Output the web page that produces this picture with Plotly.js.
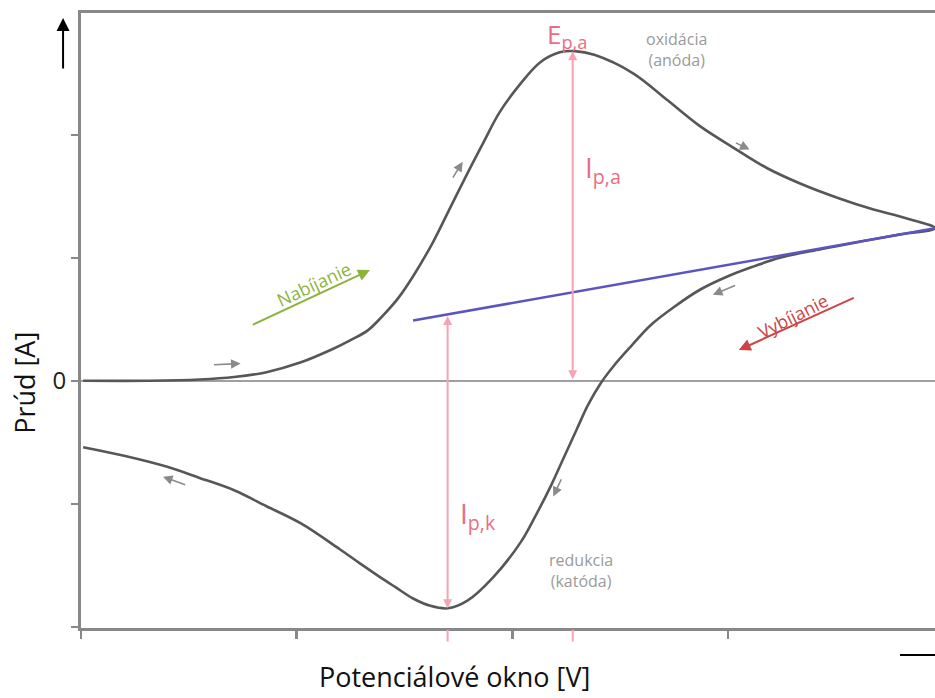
<!DOCTYPE html>
<html>
<head>
<meta charset="utf-8">
<script src="https://cdn.plot.ly/plotly-3.0.1.min.js"></script>
<style>html,body{margin:0;padding:0;background:#fff;}#chart{width:935px;height:698px;}</style>
</head>
<body>
<div id="chart"></div>
<script>
// Forward (anodic) scan
const forwardE = [0.01,0.32,0.55,0.71,0.86,1.02,1.17,1.25,1.33,1.40,1.47,1.54,1.63,1.71,1.79,1.87,1.94,2.04,2.13,2.22,2.29,2.38,2.56,2.72,2.87,3.03,3.18,3.34,3.52,3.66,3.83,3.96];
const forwardI = [0,0,0.01,0.03,0.07,0.15,0.26,0.33,0.41,0.53,0.67,0.85,1.12,1.40,1.68,1.95,2.18,2.42,2.59,2.67,2.68,2.65,2.50,2.28,2.07,1.89,1.73,1.60,1.48,1.40,1.32,1.24];
// Reverse (cathodic) scan
const reverseE = [3.96,3.80,3.61,3.43,3.24,3.12,3.00,2.87,2.75,2.64,2.55,2.47,2.41,2.35,2.30,2.24,2.18,2.11,2.04,1.91,1.79,1.70,1.62,1.54,1.46,1.39,1.29,1.20,1.02,0.86,0.71,0.55,0.40,0.20,0.01];
const reverseI = [1.24,1.19,1.13,1.07,1.00,0.93,0.85,0.74,0.60,0.45,0.28,0.12,-0.02,-0.20,-0.39,-0.62,-0.85,-1.09,-1.31,-1.60,-1.79,-1.85,-1.83,-1.77,-1.68,-1.60,-1.48,-1.37,-1.16,-1.02,-0.89,-0.79,-0.70,-0.61,-0.54];
// Baseline (capacitive) line
const baselineE = [1.54, 3.96];
const baselineI = [0.49, 1.24];
// Peaks
const peakAnodic = {E: 2.28, I: 2.68};
const peakCathodic = {E: 1.70, I: -1.85};
// Axis ticks
const xTickVals = [0, 1, 2, 3];
const yTickVals = [-2, -1, 0, 1, 2];
const yTickText = ['', '', '0', '', ''];

function baselineAt(e){
  return baselineI[0] + (e - baselineE[0]) * (baselineI[1]-baselineI[0])/(baselineE[1]-baselineE[0]);
}

const loopE = forwardE.concat(reverseE.slice(1));
const loopI = forwardI.concat(reverseI.slice(1));

const traces = [
  {x: loopE, y: loopI, mode:'lines', line:{color:'#575757', width:2.6, shape:'spline', smoothing:1.0, simplify:false}, hoverinfo:'skip'},
  {x: baselineE, y: baselineI, mode:'lines', line:{color:'#5a55c0', width:2.5}, hoverinfo:'skip'}
];

const pinkLine = '#f6a3b4';
const pinkText = '#ec6c84';
const grayArrow = '#8a8a8a';
const F = 'Open Sans, sans-serif';

function smallArrow(x0,y0,x1,y1){
  return {x:x1, y:y1, ax:x0, ay:y0, xref:'x', yref:'y', axref:'x', ayref:'y', text:'', showarrow:true,
    arrowhead:2, arrowsize:1.2, arrowwidth:1.6, arrowcolor:grayArrow};
}

const annotations = [
  // Ip,a double arrow
  {x: peakAnodic.E, y: peakAnodic.I, ax: peakAnodic.E, ay: 0, xref:'x', yref:'y', axref:'x', ayref:'y', text:'', showarrow:true,
   arrowhead:2, startarrowhead:2, arrowside:'end+start', arrowsize:0.9, startarrowsize:0.9, arrowwidth:2, arrowcolor:pinkLine},
  // Ip,k double arrow
  {x: peakCathodic.E, y: peakCathodic.I, ax: peakCathodic.E, ay: baselineAt(peakCathodic.E), xref:'x', yref:'y', axref:'x', ayref:'y', text:'', showarrow:true,
   arrowhead:2, startarrowhead:2, arrowside:'end+start', arrowsize:0.9, startarrowsize:0.9, arrowwidth:2, arrowcolor:pinkLine},
  // Labels
  {x:2.255, y:2.81, xref:'x', yref:'y', text:'E<sub>p,a</sub>', showarrow:false, font:{family:F, size:26, color:pinkText}},
  {x:2.33, y:1.72, xref:'x', yref:'y', xanchor:'left', text:'I<sub>p,a</sub>', showarrow:false, font:{family:F, size:28, color:pinkText}},
  {x:1.75, y:-1.09, xref:'x', yref:'y', xanchor:'left', text:'I<sub>p,k</sub>', showarrow:false, font:{family:F, size:28, color:pinkText}},
  {x:peakCathodic.E, y:-2.23, xref:'x', yref:'y', text:'E<sub>p,k</sub>', showarrow:false, font:{family:F, size:26, color:pinkText}},
  {x:2.76, y:2.69, xref:'x', yref:'y', text:'oxidácia<br>(anóda)', showarrow:false, font:{family:F, size:16, color:'#9a9a9a'}},
  {x:2.32, y:-1.54, xref:'x', yref:'y', text:'redukcia<br>(katóda)', showarrow:false, font:{family:F, size:16, color:'#9a9a9a'}},
  // Charging / discharging arrows
  {x:1.34, y:0.90, ax:0.79, ay:0.45, xref:'x', yref:'y', axref:'x', ayref:'y', text:'', showarrow:true, arrowhead:2, arrowsize:1.2, arrowwidth:2, arrowcolor:'#8cb43c'},
  {x:1.08, y:0.79, xref:'x', yref:'y', text:'Nabíjanie', textangle:-25, showarrow:false, font:{family:F, size:18, color:'#8cb43c'}},
  {x:3.05, y:0.25, ax:3.59, ay:0.68, xref:'x', yref:'y', axref:'x', ayref:'y', text:'', showarrow:true, arrowhead:2, arrowsize:1.2, arrowwidth:2, arrowcolor:'#cc4444'},
  {x:3.30, y:0.53, xref:'x', yref:'y', text:'Vybíjanie', textangle:-27, showarrow:false, font:{family:F, size:18, color:'#cc4444'}},
  // small direction arrows
  smallArrow(0.61,0.13,0.74,0.14),
  smallArrow(1.72,1.64,1.77,1.78),
  smallArrow(3.03,1.94,3.10,1.88),
  smallArrow(3.04,0.78,2.93,0.70),
  smallArrow(2.23,-0.79,2.19,-0.94),
  smallArrow(0.49,-0.85,0.38,-0.78),
  // top-left arrow
  {x:-0.021, y:0.992, xref:'paper', yref:'paper', ax:0, ay:52, text:'', showarrow:true, arrowhead:2, arrowsize:1.3, arrowwidth:2, arrowcolor:'#000'},
  // axis titles
  {x:-0.066, y:0.398, xref:'paper', yref:'paper', xanchor:'center', yanchor:'middle', text:'Prúd [A]', textangle:-90, showarrow:false, font:{family:F, size:27, color:'#111'}},
  {x:0.437, y:-0.079, xref:'paper', yref:'paper', xanchor:'center', yanchor:'middle', text:'Potenciálové okno [V]', showarrow:false, font:{family:F, size:27, color:'#111'}}
];

const shapes = [
  {type:'line', xref:'x', yref:'paper', x0:peakCathodic.E, x1:peakCathodic.E, y0:-0.003, y1:-0.022, line:{color:pinkLine, width:2}},
  {type:'line', xref:'x', yref:'paper', x0:peakAnodic.E, x1:peakAnodic.E, y0:-0.003, y1:-0.022, line:{color:pinkLine, width:2}},
  {type:'line', xref:'paper', yref:'paper', x0:0.959, x1:1.0, y0:-0.044, y1:-0.044, line:{color:'#000', width:2}}
];

const layout = {
  width:935, height:698,
  margin:{l:81, r:0, t:13, b:70},
  paper_bgcolor:'#fff', plot_bgcolor:'#fff',
  showlegend:false,
  xaxis:{range:[0,3.96], tickvals:xTickVals, ticktext:['','','',''], ticks:'outside', ticklen:8, tickwidth:2.5, tickcolor:'#888',
    showline:true, linecolor:'#888', linewidth:3, mirror:true, showgrid:false, zeroline:false, fixedrange:true},
  yaxis:{range:[-2.01,2.99], tickvals:yTickVals, ticktext:yTickText, ticks:'outside', ticklen:7, tickwidth:2.5, tickcolor:'#888',
    showline:true, linecolor:'#888', linewidth:3, showgrid:false, zeroline:true, zerolinecolor:'#a0a0a0', zerolinewidth:1.5,
    tickfont:{family:F, size:24, color:'#222'}, fixedrange:true},
  annotations: annotations,
  shapes: shapes
};

Plotly.newPlot('chart', traces, layout, {staticPlot:true, displayModeBar:false});
</script>
</body>
</html>
